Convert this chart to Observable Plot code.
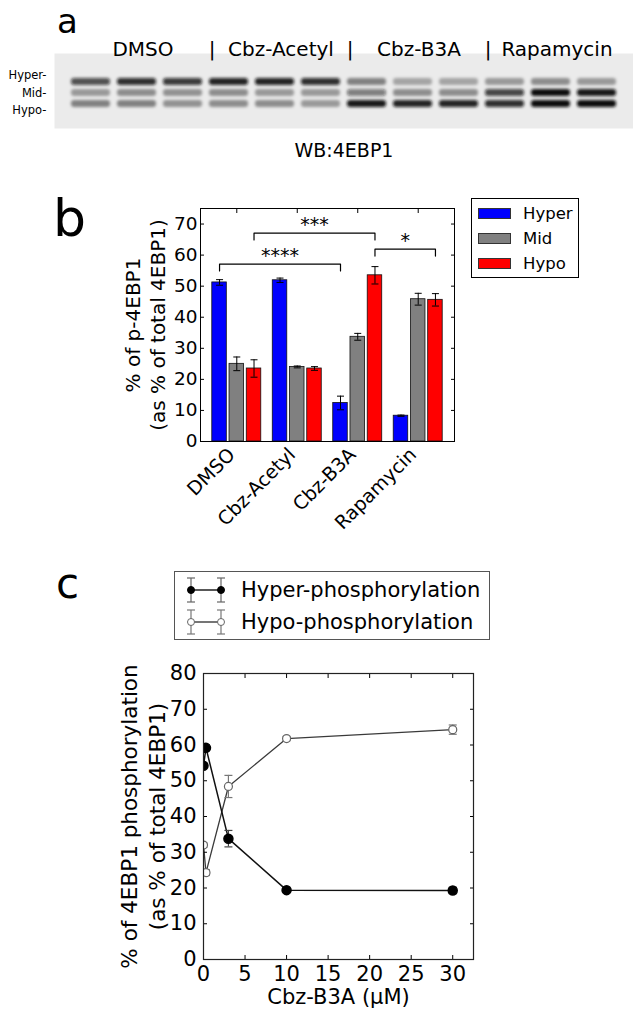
<!DOCTYPE html>
<html><head><meta charset="utf-8">
<script src="https://cdn.jsdelivr.net/npm/d3@7"></script>
<script src="https://cdn.jsdelivr.net/npm/@observablehq/plot@0.6"></script>
<style>
body{margin:0;background:#fff;font-family:"DejaVu Sans",sans-serif;}
#page{position:relative;width:633px;height:1013px;overflow:hidden;background:#fff;}
.abs{position:absolute;}
.letter{position:absolute;line-height:0.75;color:#000;font-family:"DejaVu Sans",sans-serif;}
.legend{position:absolute;box-sizing:border-box;background:#fff;font-family:"DejaVu Sans",sans-serif;}
.row{position:absolute;display:flex;align-items:center;white-space:nowrap;}
</style></head><body><div id="page"></div>
<script>
// ---------- Panel a: western blot ----------
const lanes = ["1","2","3","4","5","6","7","8","9","10","11","12"];
const laneTreatment = ["DMSO","DMSO","DMSO","Cbz-Acetyl","Cbz-Acetyl","Cbz-Acetyl","Cbz-B3A","Cbz-B3A","Cbz-B3A","Rapamycin","Rapamycin","Rapamycin"];
const blotBands = ["Hyper","Mid","Hypo"];
const hyperBand = [0.70,0.85,0.80,0.90,0.90,0.85,0.45,0.30,0.30,0.35,0.40,0.35];
const midBand   = [0.35,0.40,0.38,0.40,0.35,0.35,0.50,0.40,0.40,0.75,1.00,0.95];
const hypoBand  = [0.45,0.45,0.38,0.40,0.40,0.35,0.95,0.90,0.90,0.85,1.00,1.00];
const blotCaption = "WB:4EBP1";

// ---------- Panel b: bar chart ----------
const treatments = ["DMSO","Cbz-Acetyl","Cbz-B3A","Rapamycin"];
const phosphoForms = ["Hyper","Mid","Hypo"];
const formColors = ["#0000ff","#808080","#ff0000"];
const hyperMean = [51.2, 51.9, 12.4, 8.3];
const hyperSem  = [0.9, 0.7, 2.2, 0.2];
const midMean   = [25.0, 24.0, 33.7, 45.8];
const midSem    = [2.2, 0.3, 1.1, 1.9];
const hypoMean  = [23.5, 23.5, 53.5, 45.6];
const hypoSem   = [2.8, 0.6, 2.8, 2.0];
const yTicksB = [0,10,20,30,40,50,60,70];
const bracketFrom = [["DMSO","Hyper"],["DMSO","Hypo"],["Cbz-B3A","Hypo"]];
const bracketTo   = [["Cbz-B3A","Hyper"],["Cbz-B3A","Hypo"],["Rapamycin","Hypo"]];
const bracketY    = [57.1, 67.1, 61.9];
const bracketText = ["****","***","*"];
const yLabelB = "% of p-4EBP1\n(as % of total 4EBP1)";

// ---------- Panel c: dose response ----------
const b3aConc      = [0, 0.3, 3, 10, 30];
const hyperPhos    = [54.2, 59.2, 33.8, 19.4, 19.3];
const hyperPhosSem = [0.4, 0.8, 2.3, 0.5, 0.9];
const hypoPhos     = [32.0, 24.3, 48.4, 61.8, 64.3];
const hypoPhosSem  = [0.6, 0.8, 3.1, 0.6, 1.3];
const xTicksC = [0,5,10,15,20,25,30];
const yTicksC = [0,10,20,30,40,50,60,70,80];
const seriesC = ["Hyper-phosphorylation","Hypo-phosphorylation"];
const yLabelC = "% of 4EBP1 phosphorylation\n(as % of total 4EBP1)";
const xLabelC = "Cbz-B3A (\u03bcM)";

const page = document.getElementById("page");
function place(node, left, top){
  const d = document.createElement("div");
  d.className = "abs"; d.style.left = left+"px"; d.style.top = top+"px";
  d.appendChild(node); page.appendChild(d); return d;
}
function letter(t, left, top, size){
  const d = document.createElement("div");
  d.className = "letter"; d.textContent = t;
  d.style.left = left+"px"; d.style.top = top+"px"; d.style.fontSize = size+"px";
  page.appendChild(d);
}
const baseStyle = {fontFamily:"DejaVu Sans", color:"#000", background:"transparent", overflow:"visible"};

// ===== Panel a =====
const bandValues = [hyperBand, midBand, hypoBand];
const blotCells = lanes.flatMap((l,i)=>blotBands.map((b,j)=>({lane:l, band:b, v:bandValues[j][i]})));
const groupLabels = treatments.map(t=>{
  const ls = lanes.filter((l,i)=>laneTreatment[i]===t);
  return {name:t, lane:ls[Math.floor(ls.length/2)]};
});
const sepLanes = lanes.filter((l,i)=>i>0 && laneTreatment[i]!==laneTreatment[i-1]);
const bandLabelShift = [-7, 0, 6];

const plotA = Plot.plot({
  width:633, height:170, marginLeft:54, marginRight:0, marginTop:53, marginBottom:42,
  x:{type:"band", domain:lanes, paddingInner:0.15, paddingOuter:0.235, axis:null},
  y:{type:"band", domain:blotBands, paddingInner:0.4, paddingOuter:2.1, align:0.53, axis:null},
  opacity:{domain:[0,1], range:[0,1]},
  style:baseStyle,
  marks:[
    Plot.frame({fill:"#ebebeb", stroke:null}),
    Plot.cell(blotCells, {x:"lane", y:"band", fill:"#0d0d0d", fillOpacity:"v", rx:3}),
    Plot.text(groupLabels, {x:"lane", text:"name", frameAnchor:"top", dy:-12, dx:6, fontSize:20}),
    Plot.text(sepLanes, {x:d=>d, text:()=>"|", frameAnchor:"top", dy:-12, dx:-17, fontSize:20}),
    ...blotBands.map((b,j)=>Plot.text([b], {y:d=>d, text:d=>d+"-", frameAnchor:"left", textAnchor:"end", dx:-8, dy:bandLabelShift[j], fontSize:11.5})),
    Plot.text([blotCaption], {frameAnchor:"bottom", dy:28, fontSize:19})
  ]
});
// soften the bands
{
  const svg = d3.select(plotA);
  svg.insert("defs", ":first-child").html('<filter id="blotblur" x="-20%" y="-100%" width="140%" height="300%"><feGaussianBlur stdDeviation="1.8 1.4"/></filter>');
  svg.selectAll('g[aria-label="cell"]').attr("filter","url(#blotblur)");
}
place(plotA, 0, 0);
letter("a", 57, 9, 34);

// ===== Panel b =====
const meansB = [hyperMean, midMean, hypoMean];
const semsB = [hyperSem, midSem, hypoSem];
const BAR_STEP = 0.285, BAR_W = 0.24;
const barData = treatments.flatMap((t,i)=>phosphoForms.map((f,j)=>({t, f, gi:i, fi:j, v:meansB[j][i], e:semsB[j][i]})));
const posB = (t,f)=>treatments.indexOf(t) + (phosphoForms.indexOf(f)-1)*BAR_STEP;
const pos = d=>posB(d.t, d.f);
const DROP = 2.2;
const bracketPts = bracketY.flatMap((y,k)=>{
  const xa = posB(...bracketFrom[k]), xb = posB(...bracketTo[k]);
  return [{k,x:xa,y:y-DROP},{k,x:xa,y},{k,x:xb,y},{k,x:xb,y:y-DROP}];
});
const bracketLbl = bracketY.map((y,k)=>({y, x:(posB(...bracketFrom[k])+posB(...bracketTo[k]))/2, s:bracketText[k]}));
const capB = {draw(ctx){ctx.moveTo(-3.5,0);ctx.lineTo(3.5,0);}};

const plotB = Plot.plot({
  width:633, height:370, marginLeft:200, marginRight:179, marginTop:28, marginBottom:109,
  x:{domain:[-0.6,3.6]}, y:{domain:[0,75]},
  color:{domain:phosphoForms, range:formColors},
  style:baseStyle,
  marks:[
    Plot.rect(barData, {x1:d=>pos(d)-BAR_W/2, x2:d=>pos(d)+BAR_W/2, y1:0, y2:"v", fill:"f", stroke:"#111", strokeWidth:0.8}),
    Plot.ruleX(barData, {x:pos, y1:d=>d.v-d.e, y2:d=>d.v+d.e, stroke:"#000", strokeWidth:1}),
    Plot.dot(barData, {x:pos, y:d=>d.v+d.e, symbol:capB, stroke:"#000", strokeWidth:1, fill:null}),
    Plot.dot(barData, {x:pos, y:d=>d.v-d.e, symbol:capB, stroke:"#000", strokeWidth:1, fill:null}),
    Plot.line(bracketPts, {x:"x", y:"y", z:"k", stroke:"#000", strokeWidth:1.2}),
    Plot.text(bracketLbl, {x:"x", y:"y", text:"s", dy:-8.5, fontSize:19}),
    Plot.axisY({ticks:yTicksB, tickSize:-4, tickPadding:7, fontSize:18.5, label:null}),
    Plot.axisY({anchor:"right", ticks:yTicksB, tickSize:-4, tickFormat:()=>"", label:null}),
    Plot.axisX({ticks:[0,1,2,3], tickFormat:i=>treatments[i], tickRotate:-45, tickSize:0, tickPadding:8, dx:-5, dy:2, fontSize:19, label:null}),
    Plot.axisX({anchor:"top", ticks:[0,1,2,3], tickSize:-4, tickFormat:()=>"", label:null}),
    Plot.frame({stroke:"#000", strokeWidth:1}),
    Plot.text([yLabelB], {frameAnchor:"left", textAnchor:"middle", lineAnchor:"middle", rotate:-90, dx:-56.5, fontSize:20, lineHeight:1.25})
  ]
});
place(plotB, 0, 180);
letter("b", 53, 199, 52);

// legend b
{
  const lg = document.createElement("div");
  lg.className = "legend";
  lg.style.cssText += "left:471px;top:198px;width:108px;height:80px;border:1px solid #000;";
  phosphoForms.forEach((f,j)=>{
    const r = document.createElement("div");
    r.className = "row";
    r.style.left = "6px"; r.style.top = (14 + 25*j - 11) + "px"; r.style.height = "22px";
    r.innerHTML = `<span style="display:inline-block;width:33px;height:11px;background:${formColors[j]};box-sizing:border-box;border:0.5px solid #333"></span><span style="margin-left:12px;font-size:16.5px">${f}</span>`;
    lg.appendChild(r);
  });
  page.appendChild(lg);
}

// ===== Panel c =====
const hyperC = b3aConc.map((c,i)=>({c, v:hyperPhos[i], e:hyperPhosSem[i]}));
const hypoC  = b3aConc.map((c,i)=>({c, v:hypoPhos[i], e:hypoPhosSem[i]}));
const capC = {draw(ctx){ctx.moveTo(-4,0);ctx.lineTo(4,0);}};
const errMarks = (data, color)=>[
  Plot.ruleX(data, {x:"c", y1:d=>d.v-d.e, y2:d=>d.v+d.e, stroke:color, strokeWidth:1.2, clip:true}),
  Plot.dot(data, {x:"c", y:d=>d.v+d.e, symbol:capC, stroke:color, strokeWidth:1.2, fill:null, clip:true}),
  Plot.dot(data, {x:"c", y:d=>d.v-d.e, symbol:capC, stroke:color, strokeWidth:1.2, fill:null, clip:true})
];
const plotC = Plot.plot({
  width:633, height:363, marginLeft:203, marginRight:160, marginTop:23, marginBottom:54,
  x:{domain:[0,32.5]}, y:{domain:[0,80]},
  style:baseStyle,
  marks:[
    Plot.line(hypoC, {x:"c", y:"v", stroke:"#3a3a3a", strokeWidth:1.3, clip:true}),
    ...errMarks(hypoC, "#777"),
    Plot.dot(hypoC, {x:"c", y:"v", r:4, fill:"#fff", stroke:"#666", strokeWidth:1.2, clip:true}),
    Plot.line(hyperC, {x:"c", y:"v", stroke:"#111", strokeWidth:1.5, clip:true}),
    ...errMarks(hyperC, "#444"),
    Plot.dot(hyperC, {x:"c", y:"v", r:4.5, fill:"#000", stroke:"#000", clip:true}),
    Plot.axisY({ticks:yTicksC, tickSize:-4, tickPadding:11, fontSize:21, label:null}),
    Plot.axisY({anchor:"right", ticks:yTicksC, tickSize:-4, tickFormat:()=>"", label:null}),
    Plot.axisX({ticks:xTicksC, tickSize:-4, tickPadding:11, fontSize:21, label:null}),
    Plot.axisX({anchor:"top", ticks:xTicksC, tickSize:-4, tickFormat:()=>"", label:null}),
    Plot.frame({stroke:"#222", strokeWidth:1.2}),
    Plot.text([yLabelC], {frameAnchor:"left", textAnchor:"middle", lineAnchor:"middle", rotate:-90, dx:-61, fontSize:21.5, lineHeight:1.3}),
    Plot.text([xLabelC], {frameAnchor:"bottom", dy:44, fontSize:21})
  ]
});
place(plotC, 0, 650);
letter("c", 56, 568, 42);

// legend c
{
  const lg = document.createElement("div");
  lg.className = "legend";
  lg.style.cssText += "left:174px;top:571px;width:316px;height:69px;border:1px solid #555;";
  const sty = [{line:"#111", fill:"#000", stroke:"#000", err:"#666"},{line:"#3a3a3a", fill:"#fff", stroke:"#666", err:"#777"}];
  seriesC.forEach((s,j)=>{
    const r = document.createElement("div");
    r.className = "row";
    r.style.left = "12px"; r.style.top = (18 + 32*j - 15) + "px"; r.style.height = "30px";
    const st = sty[j];
    r.innerHTML = `<svg width="40" height="30" style="display:block"><g stroke="${st.err}" stroke-width="1.2"><line x1="4" y1="3" x2="4" y2="27"/><line x1="0" y1="3" x2="8" y2="3"/><line x1="0" y1="27" x2="8" y2="27"/><line x1="34" y1="3" x2="34" y2="27"/><line x1="30" y1="3" x2="38" y2="3"/><line x1="30" y1="27" x2="38" y2="27"/></g><line x1="4" y1="15" x2="34" y2="15" stroke="${st.line}" stroke-width="1.4"/><circle cx="4" cy="15" r="3.5" fill="${st.fill}" stroke="${st.stroke}"/><circle cx="34" cy="15" r="3.5" fill="${st.fill}" stroke="${st.stroke}"/></svg><span style="margin-left:14px;font-size:21px">${s}</span>`;
    lg.appendChild(r);
  });
  page.appendChild(lg);
}
</script></body></html>
